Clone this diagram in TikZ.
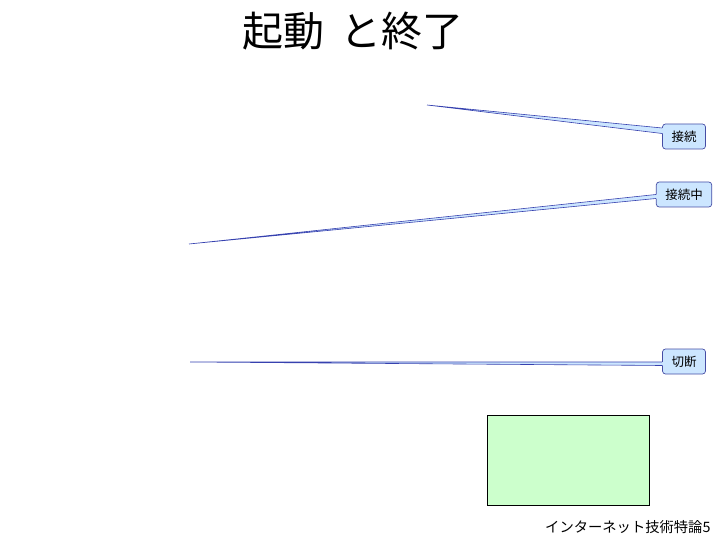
\documentclass[tikz,border=0pt]{standalone}
\usepackage{fontspec}
\newfontfamily\jpfont{Noto Sans CJK JP}
\usepackage{xcolor}
\usetikzlibrary{positioning}
\definecolor{calloutblue}{RGB}{204,230,255}
\definecolor{calloutedge}{RGB}{55,65,175}
\definecolor{palegreen}{RGB}{204,255,204}

\begin{document}
\begin{tikzpicture}[x=1pt, y=-1pt,
                    callbox/.style={draw=calloutedge!80!gray, fill=calloutblue, rounded corners=3pt,
                                    minimum height=25pt, inner xsep=9pt, line width=0.7pt,
                                    font=\jpfont\fontsize{12.5}{14}\selectfont},
                    pointer/.style={draw=calloutedge, line width=0.6pt},
                    blankbox/.style={draw=black, fill=palegreen, minimum width=162pt, minimum height=90pt},
                   ]

\useasboundingbox (0,0) rectangle (720,540);

\node[font=\jpfont\fontsize{41}{46}\selectfont] (title) at (353,31) {起動\hspace{6pt} と終了};

\node[callbox] (con) at (684,136.5) {接続};
\node[callbox] (coning) at (684,194.5) {接続中};
\node[callbox] (discon) at (684,361.5) {切断};

\coordinate (conTip) at (427,105);
\coordinate (coningTip) at (189,244);
\coordinate (disconTip) at (190,362);

% pointers
\fill[calloutblue] (conTip) -- ([xshift=1pt,yshift=8.5pt]con.west) -- ([xshift=1pt,yshift=3pt]con.west) -- cycle;
\draw[pointer] ([yshift=8.5pt]con.west) -- (conTip) -- ([yshift=3pt]con.west);

\fill[calloutblue] (coningTip) -- ([xshift=1pt,yshift=0pt]coning.west) -- ([xshift=1pt,yshift=-4pt]coning.west) -- cycle;
\draw[pointer] ([yshift=0pt]coning.west) -- (coningTip) -- ([yshift=-4pt]coning.west);

\fill[calloutblue] (disconTip) -- ([xshift=1pt,yshift=-0.5pt]discon.west) -- ([xshift=1pt,yshift=-4pt]discon.west) -- cycle;
\draw[pointer] ([yshift=-0.5pt]discon.west) -- (disconTip) -- ([yshift=-4pt]discon.west);

\node[blankbox] (blank) at (568,460) {};

\node[anchor=base east, font=\jpfont\fontsize{14.3}{16}\selectfont] (footer) at (714,532) {インターネット技術特論5};

\end{tikzpicture}
\end{document}
